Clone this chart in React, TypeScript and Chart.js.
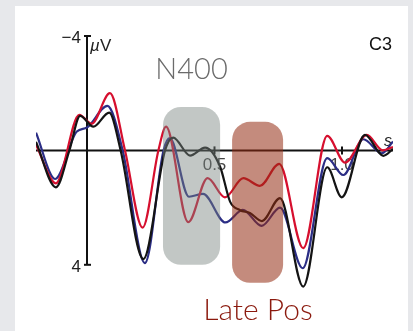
import { useEffect, useRef } from "react";
import { Chart, registerables } from "chart.js";

Chart.register(...registerables);

// ---- data (time in s, amplitude in µV; negative plotted upward) ----
const blackTimes = [-0.2, -0.122, -0.069, -0.027, 0.025, 0.087, 0.132, 0.221, 0.306, 0.338, 0.404, 0.463, 0.522, 0.561, 0.6, 0.639, 0.686, 0.757, 0.848, 0.942, 0.999, 1.09, 1.162, 1.2];
const blackValues = [-0.3, 1.29, 0, -1.21, -0.83, -1.32, 0, 3.8, 0, -0.45, 0.18, -0.1, 0.57, 1.79, 2.09, 2.19, 2.47, 1.67, 4.76, 0.59, 1.64, -0.54, 0.19, -0.05];

const redTimes = [-0.2, -0.122, -0.03, 0.018, 0.09, 0.149, 0.218, 0.28, 0.31, 0.397, 0.473, 0.541, 0.613, 0.678, 0.754, 0.848, 0.942, 1.012, 1.097, 1.16, 1.2];
const redValues = [-0.2, 1.15, -1.24, -0.93, -2.0, 0, 2.7, 0, -0.83, 2.51, 0.97, 1.64, 0.97, 1.24, 0.47, 3.42, -0.51, 0.43, -0.54, 0.0, -0.12];

const blueTimes = [-0.2, -0.125, -0.04, 0.0, 0.08, 0.14, 0.227, 0.3, 0.325, 0.4, 0.455, 0.543, 0.611, 0.685, 0.757, 0.846, 0.942, 1.005, 1.084, 1.156, 1.2];
const blueValues = [-0.62, 1.0, -0.66, -0.8, -1.56, 0, 3.94, 0, -0.43, 1.62, 1.52, 2.52, 2.08, 2.64, 2.0, 4.12, 0.27, 0.86, -0.39, 0.1, -0.31];

const xTicks = [0.5, 1.0];
const xTickLabels = ["0.5", "1.0"];
const yTicks = [-4, 4];
const yTickLabels = ["\u22124", "4"];

const n400Window = [0.298, 0.522];
const n400Range = [-1.52, 4.0];
const latePosWindow = [0.569, 0.769];
const latePosRange = [-1.0, 4.63];

const toPoints = (ts: number[], vs: number[]) => ts.map((t, i) => ({ x: t, y: vs[i] }));

const erpPlugin = {
  id: "erpDecor",
  beforeDatasetsDraw(chart: any) {
    const { ctx, chartArea, scales } = chart;
    const xs = scales.x;
    const ys = scales.y;
    const x0 = xs.getPixelForValue(0);
    const y0 = ys.getPixelForValue(0);
    ctx.save();
    ctx.strokeStyle = "#111";
    ctx.fillStyle = "#111";
    ctx.lineWidth = 2;
    // x axis
    ctx.beginPath();
    ctx.moveTo(chartArea.left, y0);
    ctx.lineTo(chartArea.right, y0);
    ctx.stroke();
    // y axis
    const yTop = ys.getPixelForValue(yTicks[0]);
    const yBot = ys.getPixelForValue(yTicks[1]);
    ctx.beginPath();
    ctx.moveTo(x0, yTop);
    ctx.lineTo(x0, yBot);
    ctx.stroke();
    // y ticks
    ctx.font = "17px 'Liberation Sans', Arial, sans-serif";
    ctx.textAlign = "right";
    ctx.textBaseline = "alphabetic";
    yTicks.forEach((v, i) => {
      const yp = ys.getPixelForValue(v);
      ctx.beginPath();
      ctx.moveTo(x0 - 3, yp);
      ctx.lineTo(x0 + 4, yp);
      ctx.stroke();
      ctx.fillStyle = "#222";
      ctx.fillText(yTickLabels[i], x0 - 6, yp + 7);
    });
    // x ticks
    ctx.textAlign = "center";
    ctx.font = "17px 'Liberation Sans', Arial, sans-serif";
    xTicks.forEach((t, i) => {
      const xp = xs.getPixelForValue(t);
      ctx.beginPath();
      ctx.moveTo(xp, y0 - 4);
      ctx.lineTo(xp, y0 + 4);
      ctx.stroke();
      ctx.fillStyle = "#444";
      ctx.fillText(xTickLabels[i], xp, y0 + 20);
    });
    // unit labels
    ctx.fillStyle = "#222";
    ctx.textAlign = "left";
    ctx.font = "italic 17px 'Liberation Sans', Arial, sans-serif";
    ctx.fillText("\u00b5", x0 + 3, yTop + 15);
    ctx.font = "17px 'Liberation Sans', Arial, sans-serif";
    ctx.fillText("V", x0 + 13, yTop + 15);
    ctx.font = "italic 16px 'Liberation Sans', Arial, sans-serif";
    ctx.textAlign = "center";
    ctx.fillText("s", chartArea.right - 5, y0 - 4);
    ctx.restore();
  },
  afterDatasetsDraw(chart: any) {
    const { ctx, scales } = chart;
    const xs = scales.x;
    const ys = scales.y;
    ctx.save();
    const box = (w: number[], r: number[], color: string) => {
      const l = xs.getPixelForValue(w[0]);
      const rr = xs.getPixelForValue(w[1]);
      const t = ys.getPixelForValue(r[0]);
      const b = ys.getPixelForValue(r[1]);
      ctx.fillStyle = color;
      ctx.beginPath();
      (ctx as any).roundRect(l, t, rr - l, b - t, 18);
      ctx.fill();
    };
    box(n400Window, n400Range, "rgba(120,130,127,0.45)");
    box(latePosWindow, latePosRange, "rgba(148,44,19,0.55)");

    ctx.textAlign = "center";
    ctx.textBaseline = "alphabetic";
    ctx.fillStyle = "#6b6b6b";
    ctx.font = "300 29px Lato, 'Open Sans', sans-serif";
    ctx.fillText("N400", (xs.getPixelForValue(n400Window[0]) + xs.getPixelForValue(n400Window[1])) / 2, 79);
    ctx.fillStyle = "#8b1a0e";
    ctx.font = "300 30px Lato, 'Open Sans', sans-serif";
    ctx.fillText("Late Pos", 258, 320);
    ctx.fillStyle = "#111";
    ctx.font = "18px 'Liberation Sans', Arial, sans-serif";
    ctx.textAlign = "right";
    ctx.fillText("C3", 392, 50);
    ctx.restore();
  },
};

export default function App() {
  const ref = useRef<HTMLCanvasElement>(null);
  useEffect(() => {
    if (!ref.current) return;
    const chart = new Chart(ref.current, {
      type: "line",
      data: {
        datasets: [
          {
            label: "black",
            data: toPoints(blackTimes, blackValues),
            borderColor: "#141414",
            borderWidth: 2.2,
            pointRadius: 0,
            cubicInterpolationMode: "monotone",
            order: 0,
          },
          {
            label: "red",
            data: toPoints(redTimes, redValues),
            borderColor: "#d60f2e",
            borderWidth: 2.2,
            pointRadius: 0,
            cubicInterpolationMode: "monotone",
            order: 1,
          },
          {
            label: "blue",
            data: toPoints(blueTimes, blueValues),
            borderColor: "#2b2d85",
            borderWidth: 2.2,
            pointRadius: 0,
            cubicInterpolationMode: "monotone",
            order: 2,
          },
        ],
      },
      options: {
        animation: false,
        responsive: false,
        layout: { padding: { left: 36, right: 20, top: 36, bottom: 9 } },
        plugins: { legend: { display: false }, tooltip: { enabled: false } },
        scales: {
          x: { type: "linear", min: -0.2, max: 1.2, display: false },
          y: { type: "linear", min: -4, max: 6, reverse: true, display: false },
        },
      },
      plugins: [erpPlugin],
    } as any);
    return () => chart.destroy();
  }, []);
  return (
    <div style={{ position: "fixed", left: 0, top: 0, width: 413, height: 331, background: "#e7e8eb", overflow: "hidden" }}>
      <div style={{ position: "absolute", left: 15, top: 6, width: 393, height: 325, background: "#ffffff" }} />
      <canvas ref={ref} width={413} height={331} style={{ position: "absolute", left: 0, top: 0, width: 413, height: 331 }} />
    </div>
  );
}
